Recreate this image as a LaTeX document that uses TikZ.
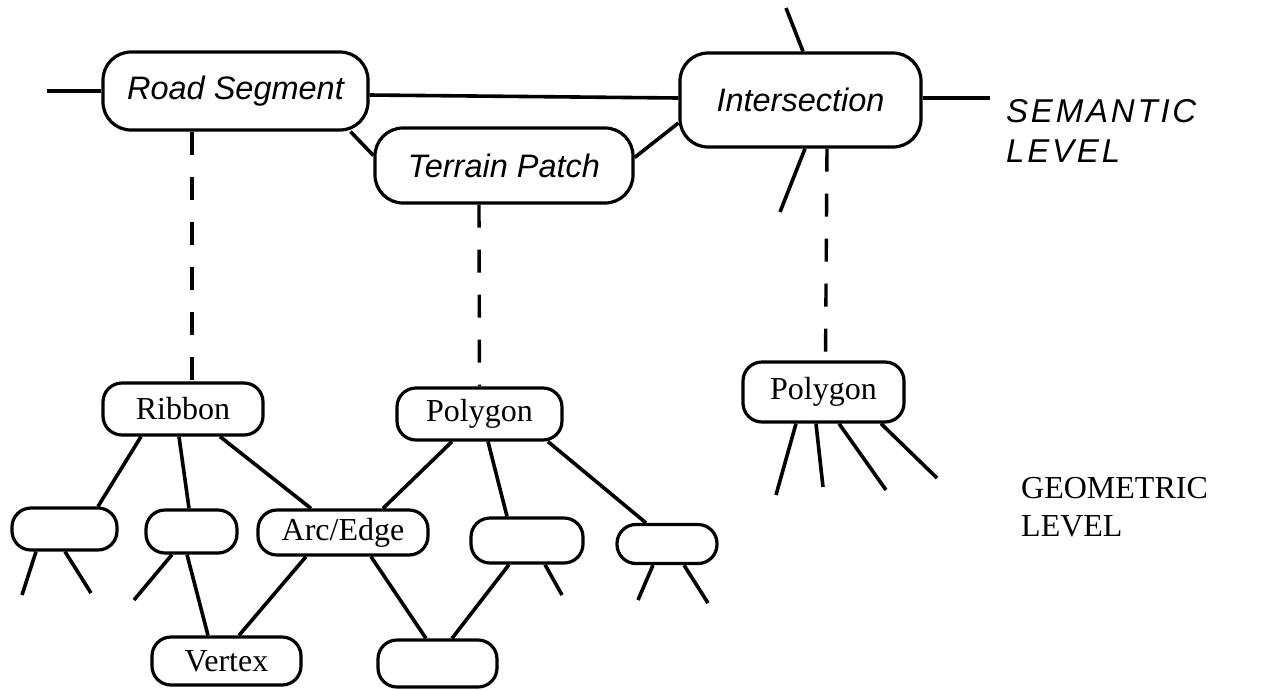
\documentclass[tikz,border=0pt]{standalone}
\usepackage{fontspec}
\setmainfont{Liberation Serif}
\setsansfont{Liberation Sans}
\tikzset{
    semnode/.style={draw, line width=3.2pt, rounded corners=28pt, inner sep=0pt,
        font=\fontsize{32.5}{38}\selectfont\sffamily\itshape},
    geonode/.style={draw, line width=3.2pt, rounded corners=19pt, inner sep=0pt,
        font=\fontsize{32}{38}\selectfont},
    link/.style={line width=3.6pt},
    dashlink/.style={line width=3.4pt, dash pattern=on 23pt off 22pt},
}
\begin{document}
\begin{tikzpicture}[x=1pt,y=-1pt]
    \useasboundingbox (0,0) rectangle (1267,689);
    % semantic level
    \node[semnode, minimum width=265pt, minimum height=78pt] (road) at (235.5,91) {Road Segment};
    \node[semnode, minimum width=258pt, minimum height=75pt] (terrain) at (504,165.5) {Terrain Patch};
    \node[semnode, minimum width=241pt, minimum height=94pt] (inter) at (800.5,100) {Intersection};
    \node[font=\fontsize{33}{40}\selectfont\sffamily\itshape\addfontfeatures{LetterSpace=8.5},
        align=left, anchor=west, inner sep=0pt] (semlabel) at (1006,131) {SEMANTIC\\LEVEL};
    \coordinate (roadL) at (47,91);
    \coordinate (interT) at (786,8);
    \coordinate (interR) at (990,98);
    \coordinate (interB) at (780,212);
    \draw[link] (road.west) -- (roadL);
    \draw[link] ([yshift=-4pt]road.east) -- ([yshift=2pt]inter.west);
    \draw[link] ([xshift=115pt]road.south) -- ([yshift=10pt]terrain.west);
    \draw[link] ([yshift=8pt]terrain.east) -- ([yshift=-23pt]inter.west);
    \draw[link] ([xshift=2.5pt]inter.north) -- (interT);
    \draw[link] ([yshift=2pt]inter.east) -- (interR);
    \draw[link] ([xshift=4.5pt]inter.south) -- (interB);
    % geometric level
    \node[geonode, minimum width=160pt, minimum height=52pt] (ribbon) at (183,409) {Ribbon};
    \node[geonode, minimum width=165pt, minimum height=52pt] (polyA) at (479.5,414) {Polygon};
    \node[geonode, minimum width=161pt, minimum height=60pt] (polyB) at (823.5,392) {Polygon};
    \node[geonode, minimum width=105pt, minimum height=42pt] (leafA) at (64.5,529) {};
    \node[geonode, minimum width=91pt, minimum height=43pt] (leafB) at (191.5,531.5) {};
    \node[geonode, minimum width=170pt, minimum height=45pt] (arc) at (343,532.5) {Arc/Edge};
    \node[geonode, minimum width=112pt, minimum height=45pt] (leafC) at (527,540.5) {};
    \node[geonode, minimum width=100pt, minimum height=39pt] (leafD) at (667,544) {};
    \node[geonode, minimum width=149pt, minimum height=48pt] (vertex) at (226.5,661) {Vertex};
    \node[geonode, minimum width=119pt, minimum height=47pt] (leafE) at (437.5,663.5) {};
    \node[font=\fontsize{32}{38}\selectfont, align=left, anchor=west, inner sep=0pt]
        (geolabel) at (1021,507) {GEOMETRIC\\LEVEL};
    \draw[link] ([xshift=-42pt]ribbon.south) -- ([xshift=33.5pt]leafA.north);
    \draw[link] ([xshift=-4pt]ribbon.south) -- ([xshift=-2.5pt]leafB.north);
    \draw[link] ([xshift=37pt]ribbon.south) -- ([xshift=-32pt]arc.north);
    \draw[link] ([xshift=-27.5pt]polyA.south) -- ([xshift=40pt]arc.north);
    \draw[link] ([xshift=8.5pt]polyA.south) -- ([xshift=-20pt]leafC.north);
    \draw[link] ([xshift=68.5pt]polyA.south) -- ([xshift=-21pt]leafD.north);
    \draw[link] ([xshift=-4.5pt]leafB.south) -- ([xshift=-18.5pt]vertex.north);
    \draw[link] ([xshift=-37pt]arc.south) -- ([xshift=12.5pt]vertex.north);
    \draw[link] ([xshift=28pt]arc.south) -- ([xshift=-11.5pt]leafE.north);
    \draw[link] ([xshift=-18pt]leafC.south) -- ([xshift=14.5pt]leafE.north);
    % loose ends
    \foreach \n/\dx/\ex/\ey [count=\i] in {leafA/-28.5/22/595, leafA/0.5/91/593,
        leafB/-19.5/134/600, leafC/18/562/595, leafD/-14/638/600, leafD/17/708/603,
        polyB/-27.5/776/495, polyB/-7.5/823/487, polyB/15.5/886/490, polyB/57.5/937/478}
    {
        \coordinate (loose\i) at (\ex,\ey);
        \draw[link] ([xshift=\dx pt]\n.south) -- (loose\i);
    }
    % between the levels
    \draw[dashlink] ([xshift=-43.5pt]road.south) -- ([xshift=9pt]ribbon.north);
    \draw[dashlink] ([xshift=-25pt]terrain.south) -- (polyA.north);
    \draw[dashlink] ([xshift=26.5pt]inter.south) -- ([xshift=2pt]polyB.north);
\end{tikzpicture}
\end{document}
